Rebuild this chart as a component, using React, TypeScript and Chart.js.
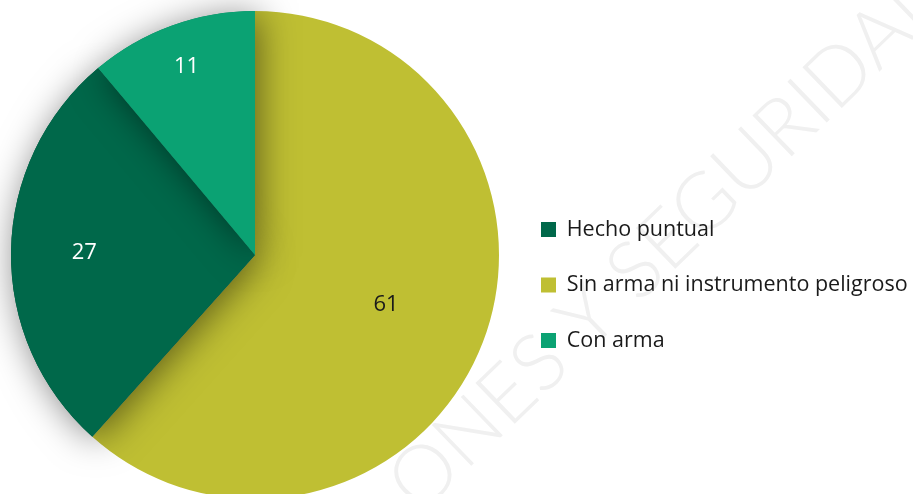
import React, { useEffect, useRef } from "react";
import { Chart, registerables } from "chart.js";

Chart.register(...registerables);

// Data (drawing order clockwise from 12 o'clock)
const categories = ["Sin arma ni instrumento peligroso", "Hecho puntual", "Con arma"];
const values = [61, 27, 11];
const colors = ["#BFBF33", "#00684A", "#0BA273"];
const legendOrder = [1, 0, 2]; // legend shows Hecho puntual first
const labelColors = ["#1a1a1a", "#ffffff", "#ffffff"];
const watermarkText = "ONES Y SEGURIDAD";

const FONT = "'Open Sans', 'Noto Sans', sans-serif";
const LEGEND_FONT_SIZE = 21.5;
const LEGEND_PAD = 34;
const BOX = 15;

const watermarkPlugin = {
  id: "watermark",
  beforeDraw(chart: any) {
    const ctx = chart.ctx;
    ctx.save();
    ctx.translate(672, 236);
    ctx.rotate((-44 * Math.PI) / 180);
    ctx.font = `300 80px Lato, sans-serif`;
    ctx.fillStyle = "#f0f0f0";
    ctx.textAlign = "center";
    ctx.textBaseline = "middle";
    ctx.fillText(watermarkText, 0, 0);
    ctx.restore();
  },
};

const shadowPlugin = {
  id: "sliceShadow",
  afterDatasetsDraw(chart: any) {
    const ctx = chart.ctx;
    const meta = chart.getDatasetMeta(0);
    ctx.save();
    ctx.shadowColor = "rgba(0,0,0,0.5)";
    ctx.shadowBlur = 36;
    ctx.shadowOffsetX = 4;
    ctx.shadowOffsetY = 4;
    for (let i = 1; i < meta.data.length; i++) {
      meta.data[i].draw(ctx);
    }
    ctx.restore();
  },
};

const labelFractions = [0.575, 0.7, 0.82];

const valueLabelPlugin = {
  id: "valueLabels",
  afterDatasetsDraw(chart: any) {
    const ctx = chart.ctx;
    const meta = chart.getDatasetMeta(0);
    ctx.save();
    ctx.font = `400 22px ${FONT}`;
    ctx.textAlign = "center";
    ctx.textBaseline = "middle";
    meta.data.forEach((arc: any, i: number) => {
      const p = arc.getProps(["x", "y", "startAngle", "endAngle", "outerRadius"], true);
      const mid = (p.startAngle + p.endAngle) / 2;
      const r = p.outerRadius * labelFractions[i];
      ctx.fillStyle = labelColors[i];
      ctx.fillText(String(values[i]), p.x + Math.cos(mid) * r, p.y + Math.sin(mid) * r);
    });
    ctx.restore();
  },
};

export default function App() {
  const ref = useRef<HTMLCanvasElement | null>(null);
  useEffect(() => {
    if (!ref.current) return;
    // measure widest legend label so that the pie area ends where intended
    const mctx = document.createElement("canvas").getContext("2d")!;
    mctx.font = `normal ${LEGEND_FONT_SIZE}px ${FONT}`;
    const textW = Math.max(...categories.map((c) => mctx.measureText(c).width));
    const legendW = LEGEND_PAD + BOX + LEGEND_FONT_SIZE / 2 + textW + 10;
    const legendLeft = 541 - LEGEND_PAD;
    const padRight = 913 - legendLeft - legendW;
    const padLeft = 2 * 255 - legendLeft;

    const chart = new Chart(ref.current, {
      type: "pie",
      data: {
        labels: categories,
        datasets: [
          {
            data: values,
            backgroundColor: colors,
            borderWidth: 0,
          },
        ],
      },
      options: {
        responsive: false,
        animation: false,
        devicePixelRatio: 1,
        layout: { padding: { left: padLeft, right: padRight, top: 11, bottom: 11 } },
        plugins: {
          tooltip: { enabled: false },
          legend: {
            position: "right",
            align: "center",
            title: { display: true, text: "", padding: { top: 45.6, bottom: 0 } },
            labels: {
              boxWidth: BOX,
              boxHeight: BOX,
              padding: LEGEND_PAD,
              color: "#1a1a1a",
              font: { family: FONT, size: LEGEND_FONT_SIZE },
              sort: (a: any, b: any) => legendOrder.indexOf(a.index) - legendOrder.indexOf(b.index),
            },
          },
        },
      },
      plugins: [watermarkPlugin, shadowPlugin, valueLabelPlugin],
    });
    return () => chart.destroy();
  }, []);
  return (
    <div style={{ position: "fixed", left: 0, top: 0, width: 913, height: 494, overflow: "hidden", background: "#fff" }}>
      <canvas ref={ref} width={913} height={510} style={{ display: "block", width: 913, height: 510 }} />
    </div>
  );
}
